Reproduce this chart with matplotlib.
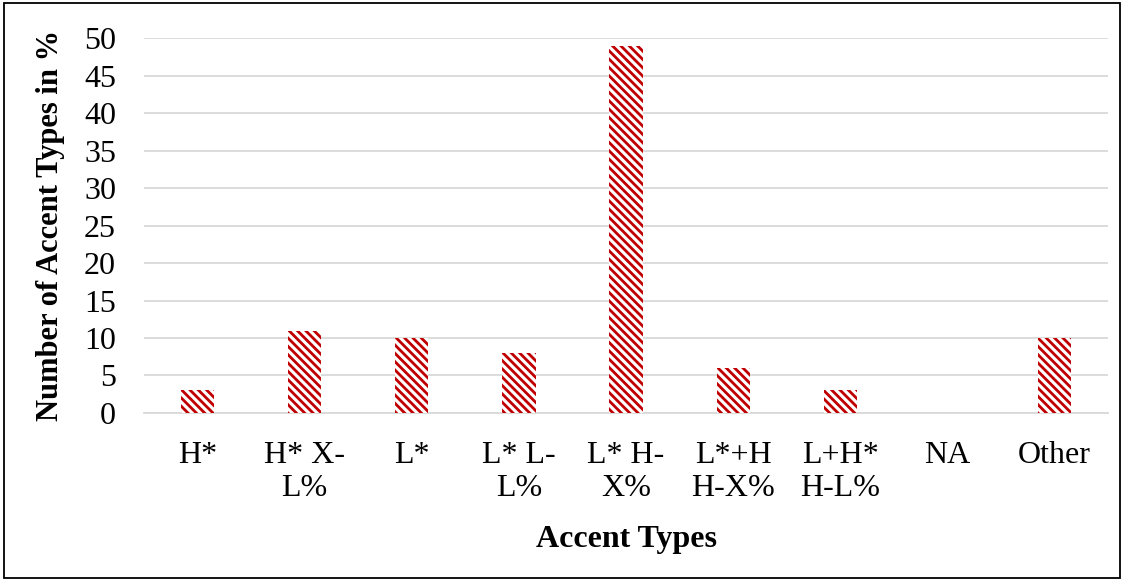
import matplotlib
matplotlib.use("Agg")
import matplotlib.pyplot as plt
from matplotlib.patches import Rectangle

categories = ["H*", "H* X-\nL%", "L*", "L* L-\nL%", "L* H-\nX%", "L*+H\nH-X%", "L+H*\nH-L%", "NA", "Other"]
values = [3, 11, 10, 8, 49, 6, 3, 0, 10]
yticks = [0, 5, 10, 15, 20, 25, 30, 35, 40, 45, 50]

plt.rcParams['font.family'] = ['Liberation Serif', 'DejaVu Serif']
plt.rcParams['hatch.linewidth'] = 2.0
plt.rcParams['hatch.color'] = '#C00000'

fig = plt.figure(figsize=(11.24, 5.8), dpi=100)
ax = fig.add_axes([0.128, 0.288, 0.858, 0.646])

x = list(range(len(categories)))
ax.bar(x, values, width=0.31, color='white', edgecolor='#C00000', linewidth=0,
       hatch='\\' * 4, zorder=3)

ax.set_ylim(0, 50)
ax.set_xlim(-0.5, len(categories) - 0.5)
ax.set_yticks(yticks)
ax.set_xticks(x)
ax.set_xticklabels(categories, fontsize=23, linespacing=1.2)
ax.tick_params(axis='y', labelsize=23, length=0, pad=20)
ax.tick_params(axis='x', length=0, pad=20)
ax.yaxis.grid(True, color='#D9D9D9', linewidth=1.3, zorder=0)
for s in ['top', 'right', 'left']:
    ax.spines[s].set_visible(False)
ax.spines['bottom'].set_color('#D9D9D9')
ax.spines['bottom'].set_linewidth(1.3)

ax.set_xlabel('Accent Types', fontsize=23, fontweight='bold', labelpad=16)
ax.set_ylabel('Number of Accent Types in %', fontsize=22, fontweight='bold', labelpad=14)

fig.patches.append(Rectangle((0.004, 0.004), 0.992, 0.99, transform=fig.transFigure,
                             fill=False, edgecolor='black', linewidth=1.3))

fig.savefig('out.png', dpi=100)
